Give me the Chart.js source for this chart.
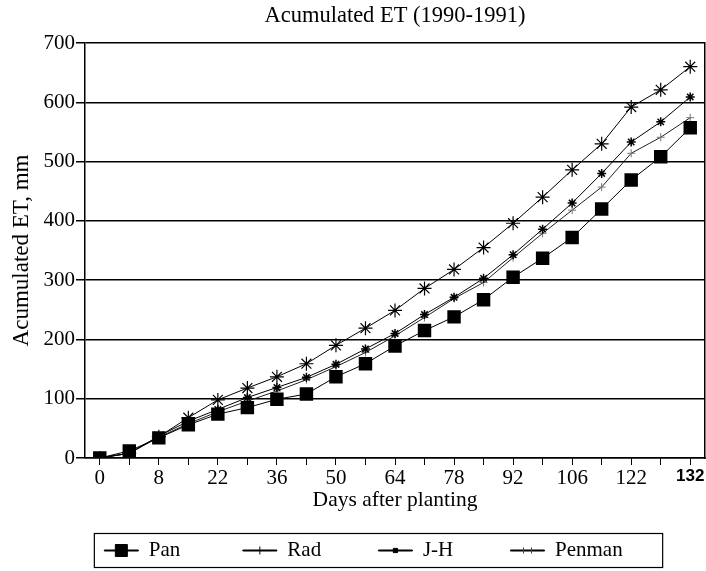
<!DOCTYPE html>
<html>
<head>
<meta charset="utf-8">
<script src="https://cdn.jsdelivr.net/npm/chart.js@4.4.1/dist/chart.umd.min.js"></script>
<style>
  html, body { margin: 0; padding: 0; background: #fff; }
</style>
</head>
<body>
<canvas id="etChart" width="706" height="571"></canvas>
<script>
// Acumulated ET (1990-1991), four methods

// DATA
// ============================================================
const dayLabels = ['0', '', '8', '', '22', '', '36', '', '50', '', '64', '', '78', '', '92', '', '106', '', '122', '', '132'];
const seriesNames = ['Pan', 'Rad', 'J-H', 'Penman'];
const panEt    = [0, 12, 34, 56, 74, 85,  99, 108, 137, 159, 189, 215, 238, 267, 305, 337, 372, 420, 469, 508, 557];
const radEt    = [0,  8, 36, 68, 98, 118, 137, 159, 190, 219, 249, 286, 318, 355, 396, 440, 486, 530, 592, 621, 660];
const jhEt     = [0,  8, 37, 62, 82, 102, 119, 136, 158, 184, 210, 242, 271, 303, 343, 386, 430, 480, 533, 567, 609];
const penmanEt = [0,  8, 35, 58, 78,  96, 113, 132, 154, 178, 206, 237, 269, 296, 338, 379, 418, 457, 514, 541, 574];
const yTicks = { min: 0, max: 700, step: 100 };

// STYLE
// ============================================================
const SERIF = "'Liberation Serif', 'Times New Roman', serif";
const SANS  = "'Liberation Sans', Arial, sans-serif";
Chart.defaults.font.family = SERIF;
Chart.defaults.color = '#000';

// legend marks drawn over the legend line (same look as the plot markers)
const legendMarks = [
  [{ style: 'rect',  r: 8.5, dx: 0 }],
  [{ style: 'line',  r: 4,   dx: 0, rot: 90 }],
  [{ style: 'rect',  r: 3,   dx: 0 }],
  [{ style: 'line',  r: 3,   dx: -4, rot: 90 }, { style: 'line', r: 3, dx: 4, rot: 90 }],
];
const legendSpaces = [10, 9, 9, 12]; // widen items so they sit like the original

const titlePlugin = {
  id: 'topTitle',
  afterDraw(chart) {
    const { ctx, chartArea } = chart;
    ctx.save();
    ctx.font = `22.5px ${SERIF}`;
    ctx.fillStyle = '#000';
    ctx.textAlign = 'center';
    ctx.textBaseline = 'middle';
    ctx.fillText('Acumulated ET (1990-1991)', (chartArea.left + chartArea.right) / 2, 16);
    ctx.restore();
  }
};

const legendDecor = {
  id: 'legendDecor',
  afterDraw(chart) {
    const lg = chart.legend;
    if (!lg || !lg.legendHitBoxes) return;
    const { ctx } = chart;
    const bw = lg.options.labels.boxWidth;
    const fs = lg.options.labels.font.size;
    const boxes = lg.legendHitBoxes;
    ctx.save();
    boxes.forEach((hb, i) => {
      const cx = hb.left + bw / 2, cy = hb.top + fs / 2;
      legendMarks[i].forEach(m => {
        ctx.fillStyle = '#000';
        ctx.strokeStyle = i === 3 ? '#444' : '#000';
        ctx.lineWidth = 1;
        Chart.helpers.drawPoint(ctx, { pointStyle: m.style, radius: m.r, rotation: m.rot || 0, borderWidth: 1 }, cx + m.dx, cy);
      });
    });
    // frame around the legend
    ctx.font = `${fs}px ${SERIF}`;
    const last = boxes[boxes.length - 1];
    const left = boxes[0].left - 10;
    const right = last.left + bw + fs / 2 + ctx.measureText(seriesNames[3]).width + 40;
    const top = boxes[0].top + fs / 2 - 17;
    ctx.strokeStyle = '#000';
    ctx.lineWidth = 1.2;
    ctx.strokeRect(left, top, right - left, 34);
    ctx.restore();
  }
};

// CHART
// ============================================================
new Chart(document.getElementById('etChart'), {
  type: 'line',
  data: {
    labels: dayLabels,
    datasets: [
      { label: seriesNames[0], data: panEt, borderColor: '#000', backgroundColor: '#000', borderWidth: 1,
        pointStyle: 'rect', pointRadius: 9.5, pointBorderWidth: 0 },
      { label: seriesNames[1], data: radEt, borderColor: '#000', backgroundColor: '#000', borderWidth: 1,
        pointStyle: 'star', pointRadius: 7, pointBorderWidth: 1.2 },
      { label: seriesNames[2], data: jhEt, borderColor: '#000', backgroundColor: '#000', borderWidth: 1,
        pointStyle: 'star', pointRadius: 4.5, pointBorderWidth: 1.5 },
      { label: seriesNames[3], data: penmanEt, borderColor: '#222', backgroundColor: '#666', borderWidth: 1,
        pointStyle: 'cross', pointRadius: 4, pointBorderColor: '#777', pointBorderWidth: 1 },
    ]
  },
  options: {
    responsive: false,
    animation: false,
    layout: { autoPadding: false, padding: { top: 43, bottom: 0, left: 0, right: 0 } },
    scales: {
      x: {
        type: 'category',
        offset: true,
        grid: { display: true, drawOnChartArea: false, offset: false, color: '#000', tickLength: 7 },
        border: { color: '#000', width: 1.5 },
        ticks: {
          autoSkip: false, maxRotation: 0, padding: 1,
          font: c => c.index === 20 ? { family: SANS, size: 17, weight: 'bold' } : { size: 21 }
        },
        title: { display: true, text: 'Days after planting', font: { size: 21.5 }, padding: { top: 2, bottom: 17 } },
        afterFit: s => { s.height = 72; s.paddingLeft = 0; s.paddingRight = 0; }
      },
      y: {
        min: yTicks.min, max: yTicks.max,
        ticks: { stepSize: yTicks.step, padding: 1, font: { size: 21 } },
        grid: { color: '#000', lineWidth: 1.5, tickLength: 9 },
        border: { color: '#000', width: 1.5 },
        title: { display: true, text: 'Acumulated ET, mm', font: { size: 23 }, padding: { top: 8 } },
        afterFit: s => { s.width = 85; s.paddingTop = 0; s.paddingBottom = 0; }
      },
      y2: {
        position: 'right',
        min: yTicks.min, max: yTicks.max,
        grid: { drawOnChartArea: false, drawTicks: false },
        ticks: { display: false },
        border: { color: '#000', width: 1.5 },
        afterFit: s => { s.width = 1; }
      }
    },
    plugins: {
      title: { display: false },
      tooltip: { enabled: false },
      legend: {
        position: 'bottom',
        fullSize: false,
        labels: {
          boxWidth: 34, boxHeight: 1, padding: 10, color: '#000',
          font: { size: 21, lineHeight: 1 },
          generateLabels: chart => chart.data.datasets.map((ds, i) => ({
            text: ds.label + ' '.repeat(legendSpaces[i]),
            fillStyle: '#000', strokeStyle: '#000', lineWidth: 1,
            hidden: false, datasetIndex: i
          }))
        }
      }
    }
  },
  plugins: [titlePlugin, legendDecor]
});
</script>
</body>
</html>
